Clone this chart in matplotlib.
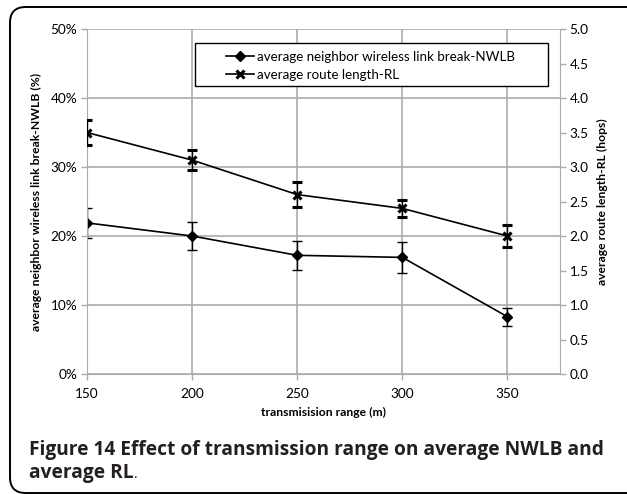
import numpy as np
import matplotlib.pyplot as plt
from matplotlib.lines import Line2D
from matplotlib.patches import FancyBboxPatch, Rectangle

# transmission range vs. link break and route length
ranges = [150, 200, 250, 300, 350]
nwlb = [21.9, 20.0, 17.2, 16.9, 8.3]          # %
nwlb_err = [2.2, 2.1, 2.1, 2.3, 1.3]
rl = [3.5, 3.1, 2.6, 2.4, 2.0]                 # hops
rl_err = [0.18, 0.14, 0.18, 0.12, 0.16]

pct_ticks = [0, 10, 20, 30, 40, 50]
hop_ticks = [0.0, 0.5, 1.0, 1.5, 2.0, 2.5, 3.0, 3.5, 4.0, 4.5, 5.0]

plt.rcParams['font.family'] = ['Lato', 'DejaVu Sans']
grid_c = '#ababab'
cap_font = ['Open Sans', 'DejaVu Sans']

fig = plt.figure(figsize=(6.27, 4.94), dpi=100)
ax = fig.add_axes([87/627, 1 - 374/494, (560-87)/627, (374-29)/494])
ax2 = ax.twinx()

ax.errorbar(ranges, nwlb, yerr=nwlb_err, color='black', lw=1.2, marker='D', ms=5,
            capsize=3.5, elinewidth=1, capthick=1)
ax2.errorbar(ranges, rl, yerr=rl_err, color='black', lw=1.2, marker='x', ms=6, mew=2.2,
             capsize=3.5, elinewidth=1, capthick=1)

ax.set_xlim(150, 375)
ax.set_ylim(0, 50)
ax2.set_ylim(0, 5)
ax.set_xticks(ranges)
ax.set_yticks(pct_ticks)
ax.set_yticklabels([f'{t}%' for t in pct_ticks])
ax2.set_yticks(hop_ticks)
ax2.set_yticklabels([f'{t:.1f}' for t in hop_ticks])

ax.grid(True, color=grid_c, lw=1.2)
ax.set_axisbelow(True)
for a in (ax, ax2):
    for s in a.spines.values():
        s.set_visible(False)
    a.tick_params(labelsize=9.8, colors='black', color=grid_c, length=4, width=1, pad=3)
ax.spines['left'].set_visible(True)
ax.spines['left'].set_color(grid_c)
ax.spines['bottom'].set_visible(True)
ax.spines['bottom'].set_color(grid_c)
ax2.spines['right'].set_visible(True)
ax2.spines['right'].set_color(grid_c)
ax.tick_params(axis='x', pad=6)

ax.set_xlabel('transmisision range (m)', fontsize=8.7, fontweight='bold', labelpad=5)
ax.set_ylabel('average neighbor wireless link break-NWLB (%)', fontsize=8.7,
              fontweight='bold', labelpad=6)
ax2.set_ylabel('average route length-RL (hops)', fontsize=8.7, fontweight='bold',
               labelpad=6)

# legend: entries without their own frame, boxed by a wider rectangle
handles = [Line2D([], [], color='black', lw=1.2, marker='D', ms=5),
           Line2D([], [], color='black', lw=1.2, marker='x', ms=6, mew=2.2)]
labels = ['average neighbor wireless link break-NWLB', 'average route length-RL']
ax2.legend(handles, labels, loc='upper left', bbox_to_anchor=(0.294, 0.937),
           fontsize=9.6, frameon=False, borderpad=0,
           handlelength=2.1, handletextpad=0.2, labelspacing=0.45,
           borderaxespad=0)
ax2.add_patch(Rectangle((0.2283, 0.8348), 0.7463, 0.1246, transform=ax2.transAxes,
                        fill=True, facecolor='white', edgecolor='black', lw=1,
                        zorder=4.5, clip_on=False))

# caption under the chart
fig.text(29/627, 1 - 455/494, 'Figure 14 Effect of transmission range on average NWLB and',
         fontsize=13.8, fontweight='bold', family=cap_font, color='#231f20', va='baseline')
rl_txt = fig.text(29/627, 1 - 478/494, 'average RL', fontsize=13.8, fontweight='bold',
                  family=cap_font, color='#231f20', va='baseline')
fig.canvas.draw()
x_end = rl_txt.get_window_extent().x1
fig.text(x_end / fig.bbox.width, 1 - 478/494, '.', fontsize=10, family=cap_font,
         color='#231f20', va='baseline')

# rounded outer frame
frame = FancyBboxPatch((10/627, 1/494), 640/627, (487-1)/494,
                       boxstyle='round,pad=0,rounding_size=0.025',
                       transform=fig.transFigure, fill=False, edgecolor='black',
                       lw=1.4, mutation_aspect=627/494)
fig.patches.append(frame)

fig.savefig('out.png', dpi=100)
